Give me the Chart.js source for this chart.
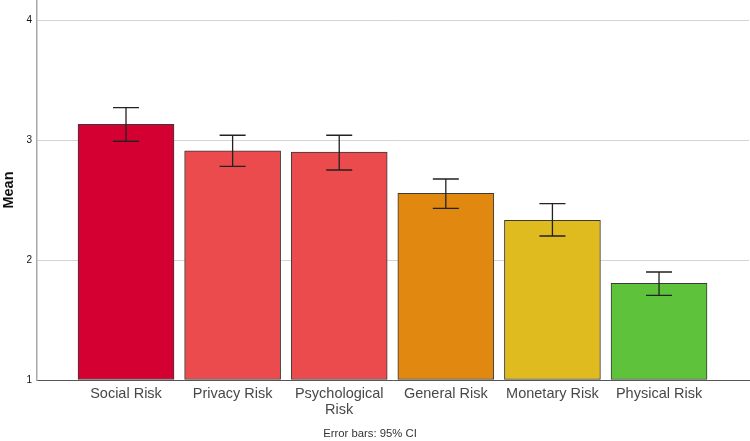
<!DOCTYPE html>
<html>
<head>
<meta charset="utf-8">
<script src="https://cdn.jsdelivr.net/npm/chart.js@4"></script>
<style>
    html, body { margin: 0; padding: 0; background: #fff; }
    #wrap { width: 750px; height: 441px; position: relative; }
</style>
</head>
<body>
<div id="wrap"><canvas id="meanChart"></canvas></div>
<script>
// ── Data ─────────────────────────────────────────────────────
const CATEGORIES = ['Social Risk', 'Privacy Risk', ['Psychological', 'Risk'], 'General Risk', 'Monetary Risk', 'Physical Risk'];
const MEANS      = [3.13, 2.91, 2.90, 2.555, 2.33, 1.805];
const CI_LOW     = [2.99, 2.78, 2.75, 2.43, 2.20, 1.705];
const CI_HIGH    = [3.27, 3.04, 3.04, 2.675, 2.47, 1.90];
const Y_TICKS    = [1, 2, 3, 4];
const BAR_COLORS = ['#d50032', '#ec4b4d', '#ec4b4d', '#e0880f', '#dfbb20', '#5ec33a'];

const FONT = '"Liberation Sans", Arial, sans-serif';

// ── Error bar plugin ─────────────────────────────────────────
const errorBars = {
    id: 'errorBars',
    afterDatasetsDraw(chart) {
        const { ctx, scales: { y } } = chart;
        const bars = chart.getDatasetMeta(0).data;
        ctx.save();
        ctx.strokeStyle = '#222';
        ctx.lineWidth = 1.3;
        bars.forEach((bar, i) => {
            const top = y.getPixelForValue(CI_HIGH[i]);
            const bot = y.getPixelForValue(CI_LOW[i]);
            const half = 13;
            ctx.beginPath();
            ctx.moveTo(bar.x, top); ctx.lineTo(bar.x, bot);
            ctx.moveTo(bar.x - half, top); ctx.lineTo(bar.x + half, top);
            ctx.moveTo(bar.x - half, bot); ctx.lineTo(bar.x + half, bot);
            ctx.stroke();
        });
        ctx.restore();
    }
};

// ── Caption plugin ───────────────────────────────────────────
const caption = {
    id: 'caption',
    afterDraw(chart) {
        const { ctx } = chart;
        ctx.save();
        ctx.font = `11.3px ${FONT}`;
        ctx.fillStyle = '#333';
        ctx.textAlign = 'center';
        ctx.textBaseline = 'middle';
        ctx.fillText('Error bars: 95% CI', 370, 434);
        ctx.restore();
    }
};

new Chart(document.getElementById('meanChart'), {
    type: 'bar',
    data: {
        datasets: [{
            data: MEANS.map((v, i) => ({ x: i, y: v })),
            base: 1,
            backgroundColor: BAR_COLORS,
            borderColor: '#3a3a3a',
            borderWidth: 1,
            borderSkipped: false,
            barThickness: 96
        }]
    },
    options: {
        responsive: true,
        maintainAspectRatio: false,
        animation: false,
        layout: { padding: { top: 0, right: 1, bottom: 0, left: 0 } },
        plugins: {
            legend: { display: false },
            tooltip: { enabled: false }
        },
        scales: {
            x: {
                type: 'linear',
                offset: false,
                min: -0.835,
                max: 5.844,
                afterBuildTicks: scale => {
                    scale.ticks = CATEGORIES.map((_, i) => ({ value: i }));
                },
                afterFit: scale => {
                    scale.height = 61;
                    scale.paddingLeft = 0;
                    scale.paddingRight = 0;
                },
                grid: { display: false, drawTicks: false },
                border: { color: '#555', width: 1 },
                ticks: {
                    padding: 6,
                    maxRotation: 0,
                    autoSkip: false,
                    color: '#484848',
                    font: { family: FONT, size: 14.5, lineHeight: 1.1 },
                    callback: val => CATEGORIES[val]
                }
            },
            y: {
                min: 1,
                max: 4.167,
                afterBuildTicks: scale => {
                    scale.ticks = Y_TICKS.map(v => ({ value: v }));
                },
                afterFit: scale => {
                    scale.width = 37;
                    scale.paddingTop = 0;
                    scale.paddingBottom = 0;
                },
                grid: { color: '#d4d4d4', lineWidth: 1, drawTicks: false },
                border: { color: '#a8a8a8', width: 1.5 },
                ticks: {
                    padding: 5,
                    color: '#111',
                    font: { family: FONT, size: 10 }
                },
                title: {
                    display: true,
                    text: 'Mean',
                    color: '#111',
                    padding: { top: 0, bottom: 0 },
                    font: { family: FONT, size: 14.5, weight: 'bold' }
                }
            }
        }
    },
    plugins: [errorBars, caption]
});
</script>
</body>
</html>
